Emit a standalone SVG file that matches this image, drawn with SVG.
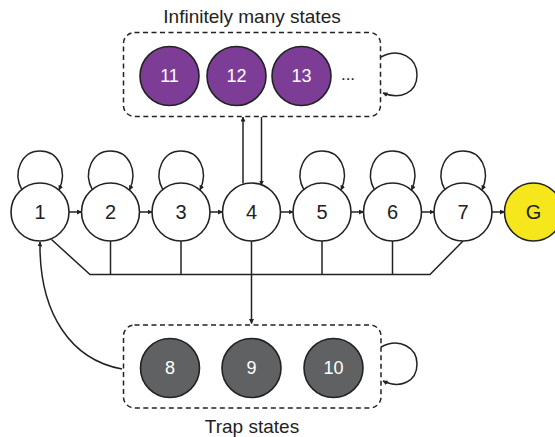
<svg xmlns="http://www.w3.org/2000/svg" width="555" height="437" viewBox="0 0 555 437">
  <style>
    .node { stroke: #222; stroke-width: 1.6; }
    .plain { fill: #fff; }
    .goal { fill: #f6e61c; }
    .inf { fill: #7d3c95; }
    .trap { fill: #5f6162; }
    .lbl { font-family: "Liberation Sans", Arial, sans-serif; font-size: 20px; text-anchor: middle; dominant-baseline: central; fill: #222; }
    .wlbl { font-family: "Liberation Sans", Arial, sans-serif; font-size: 18px; text-anchor: middle; dominant-baseline: central; fill: #fff; }
    .title { font-family: "Liberation Sans", Arial, sans-serif; font-size: 19px; text-anchor: middle; fill: #222; }
    .edge { fill: none; stroke: #222; stroke-width: 1.5; }
    .arr { marker-end: url(#ah); }
    .box { fill: none; stroke: #222; stroke-width: 1.5; stroke-dasharray: 5 3.5; }
  </style>
  <defs>
    <marker id="ah" viewBox="0 0 10 10" refX="9" refY="5" markerWidth="5" markerHeight="5" orient="auto" markerUnits="userSpaceOnUse">
      <path d="M0,0 L10,5 L0,10 z" fill="#222"/>
    </marker>
  </defs>

  <!-- group boxes -->
  <g id="infinite-group">
    <rect class="box" x="123.5" y="32.5" width="257" height="84" rx="11"/>
    <text class="title" x="252" y="23">Infinitely many states</text>
  </g>
  <g id="trap-group">
    <rect class="box" x="123.5" y="325" width="257.5" height="83" rx="11"/>
    <text class="title" x="252" y="433">Trap states</text>
  </g>

  <!-- connectors -->
  <g id="connectors">
    <!-- chain arrows -->
    <line class="edge arr" x1="69" y1="212" x2="81.5" y2="212"/>
    <line class="edge arr" x1="139.5" y1="212" x2="152" y2="212"/>
    <line class="edge arr" x1="210" y1="212" x2="222.5" y2="212"/>
    <line class="edge arr" x1="280.5" y1="212" x2="293" y2="212"/>
    <line class="edge arr" x1="351" y1="212" x2="363.5" y2="212"/>
    <line class="edge arr" x1="421.5" y1="212" x2="434" y2="212"/>
    <line class="edge arr" x1="492" y1="212" x2="504.5" y2="212"/>

    <!-- self loops on chain nodes -->
    <path class="edge arr" d="M22,190 C12,172 22,151 40,151 C58,151 68,170 59,190"/>
    <path class="edge arr" d="M92.5,190 C82.5,172 92.5,151 110.5,151 C128.5,151 138.5,170 129.5,190"/>
    <path class="edge arr" d="M163,190 C153,172 163,151 181,151 C199,151 209,170 200,190"/>
    <path class="edge arr" d="M304,190 C294,172 304,151 322,151 C340,151 350,170 341,190"/>
    <path class="edge arr" d="M374.5,190 C364.5,172 374.5,151 392.5,151 C410.5,151 420.5,170 411.5,190"/>
    <path class="edge arr" d="M445,190 C435,172 445,151 463,151 C481,151 491,170 482,190"/>

    <!-- bus to trap states -->
    <polyline class="edge" points="51.5,239.5 90,274.5 430,274.5 463,241"/>
    <line class="edge" x1="110.5" y1="241" x2="110.5" y2="274.5"/>
    <line class="edge" x1="181" y1="241" x2="181" y2="274.5"/>
    <line class="edge" x1="322" y1="241" x2="322" y2="274.5"/>
    <line class="edge" x1="392.5" y1="241" x2="392.5" y2="274.5"/>
    <line class="edge arr" x1="251.5" y1="241" x2="251.5" y2="323.5"/>

    <!-- node 4 to/from infinite states -->
    <line class="edge arr" x1="243" y1="183.5" x2="243" y2="117"/>
    <line class="edge arr" x1="261.5" y1="117" x2="261.5" y2="185"/>

    <!-- group self loops -->
    <path class="edge arr" d="M381,57 C400,47 417,58 417,75 C417,93 400,100 383,93"/>
    <path class="edge arr" d="M381,347 C400,337 417,348 417,364 C417,382 400,389 383,381"/>

    <!-- trap states back to node 1 -->
    <path class="edge arr" d="M122,369 C72,360 39,315 40,242"/>
  </g>

  <!-- chain nodes -->
  <g id="n1"><circle class="node plain" cx="40" cy="212" r="29"/><text class="lbl" x="40" y="212">1</text></g>
  <g id="n2"><circle class="node plain" cx="110.5" cy="212" r="29"/><text class="lbl" x="110.5" y="212">2</text></g>
  <g id="n3"><circle class="node plain" cx="181" cy="212" r="29"/><text class="lbl" x="181" y="212">3</text></g>
  <g id="n4"><circle class="node plain" cx="251.5" cy="212" r="29"/><text class="lbl" x="251.5" y="212">4</text></g>
  <g id="n5"><circle class="node plain" cx="322" cy="212" r="29"/><text class="lbl" x="322" y="212">5</text></g>
  <g id="n6"><circle class="node plain" cx="392.5" cy="212" r="29"/><text class="lbl" x="392.5" y="212">6</text></g>
  <g id="n7"><circle class="node plain" cx="463" cy="212" r="29"/><text class="lbl" x="463" y="212">7</text></g>
  <g id="nG"><circle class="node goal" cx="533.5" cy="212" r="29"/><text class="lbl" x="533.5" y="212">G</text></g>

  <!-- infinite states -->
  <g id="n11"><circle class="node inf" cx="169.5" cy="76" r="29.5"/><text class="wlbl" x="169.5" y="76">11</text></g>
  <g id="n12"><circle class="node inf" cx="236.5" cy="76" r="29.5"/><text class="wlbl" x="236.5" y="76">12</text></g>
  <g id="n13"><circle class="node inf" cx="301.5" cy="76" r="29.5"/><text class="wlbl" x="301.5" y="76">13</text></g>
  <g id="ellipsis"><text class="lbl" x="348" y="74" style="font-size:17px">...</text></g>

  <!-- trap states -->
  <g id="n8"><circle class="node trap" cx="170" cy="368" r="29.5"/><text class="wlbl" x="170" y="368">8</text></g>
  <g id="n9"><circle class="node trap" cx="251.5" cy="368" r="29.5"/><text class="wlbl" x="251.5" y="368">9</text></g>
  <g id="n10"><circle class="node trap" cx="333.5" cy="368" r="29.5"/><text class="wlbl" x="333.5" y="368">10</text></g>
</svg>
